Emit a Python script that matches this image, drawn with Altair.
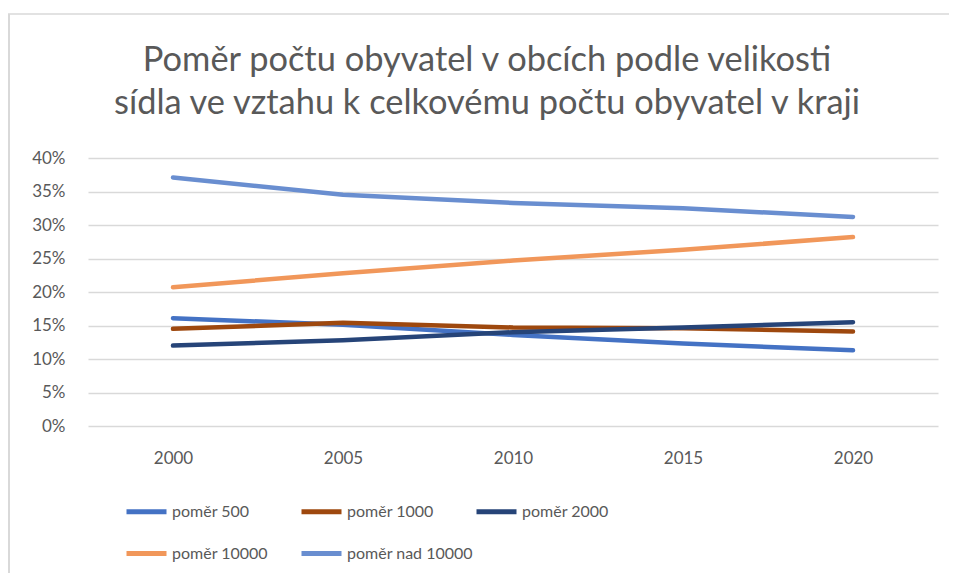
import altair as alt
import pandas as pd

years = ["2000", "2005", "2010", "2015", "2020"]
series_names = ["poměr 500", "poměr 1000", "poměr 2000", "poměr 10000", "poměr nad 10000"]
pomer_500 = [0.161, 0.151, 0.136, 0.123, 0.113]
pomer_1000 = [0.145, 0.154, 0.147, 0.146, 0.141]
pomer_2000 = [0.120, 0.128, 0.140, 0.147, 0.155]
pomer_10000 = [0.207, 0.228, 0.247, 0.263, 0.282]
pomer_nad_10000 = [0.371, 0.345, 0.333, 0.325, 0.312]
colors = ["#4472C4", "#9E480E", "#264478", "#F1975A", "#698ED0"]
y_ticks = [0, 0.05, 0.10, 0.15, 0.20, 0.25, 0.30, 0.35, 0.40]

all_values = [pomer_500, pomer_1000, pomer_2000, pomer_10000, pomer_nad_10000]
rows = []
for name, vals in zip(series_names, all_values):
    for yr, v in zip(years, vals):
        rows.append({"rok": yr, "serie": name, "hodnota": v})
df = pd.DataFrame(rows)

FONT = "Lato"
TXT = "#595959"
GRID = "#D9D9D9"

lines = alt.Chart(df).mark_line(strokeWidth=4.5, strokeCap="round", strokeJoin="round").encode(
    x=alt.X("rok:N", sort=years, title=None,
            scale=alt.Scale(paddingInner=0, paddingOuter=0.5),
            axis=alt.Axis(labelAngle=0, ticks=False, domain=False, grid=False,
                          labelPadding=24, labelFontSize=17, labelColor=TXT, labelFont=FONT)),
    y=alt.Y("hodnota:Q", title=None,
            scale=alt.Scale(domain=[0, 0.4], nice=False),
            axis=alt.Axis(values=y_ticks, format=".0%", ticks=False, domain=False,
                          gridColor=GRID, gridWidth=1.5, labelPadding=23,
                          labelFontSize=17, labelColor=TXT, labelFont=FONT)),
    color=alt.Color("serie:N", sort=series_names, title=None,
                    scale=alt.Scale(domain=series_names, range=colors),
                    legend=alt.Legend(orient="none", legendX=36, legendY=331, columns=3,
                                      direction="horizontal",
                                      gridAlign="all", columnPadding=-7, rowPadding=9,
                                      symbolType="stroke", symbolSize=1600, symbolStrokeWidth=5,
                                      labelFontSize=16, labelColor=TXT, labelFont=FONT,
                                      labelOffset=3, labelLimit=200)),
)

frame_data = alt.Data(values=[{}])
frame_top = alt.Chart(frame_data).mark_rule(stroke=GRID, strokeWidth=1.5).encode(
    x=alt.value(-80), x2=alt.value(861), y=alt.value(-144), y2=alt.value(-144)
)
frame_left = alt.Chart(frame_data).mark_rule(stroke=GRID, strokeWidth=2).encode(
    x=alt.value(-79), x2=alt.value(-79), y=alt.value(-144), y2=alt.value(415)
)

chart = alt.layer(frame_top, frame_left, lines).properties(
    width=850,
    height=268,
    padding={"left": 80, "top": 150, "right": 11, "bottom": 147},
    autosize=alt.AutoSizeParams(type="none"),
    title=alt.TitleParams(
        text=["Poměr počtu obyvatel v obcích podle velikosti",
              "sídla ve vztahu k celkovému počtu obyvatel v kraji"],
        fontSize=34.4, font=FONT, fontWeight="normal", color=TXT,
        lineHeight=43, anchor="middle", frame="group", dx=-26, offset=0, dy=108,
    ),
).configure_view(stroke=None)

chart.save("out.html", embed_options={"renderer": "svg", "actions": False})
